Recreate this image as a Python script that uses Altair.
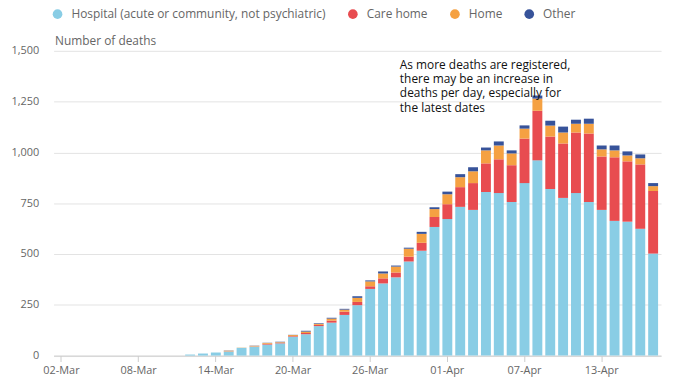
import altair as alt
import pandas as pd

dates = [d.strftime("%d-%b") for d in pd.date_range("2020-03-02", "2020-04-17")]
tick_dates = ["02-Mar", "08-Mar", "14-Mar", "20-Mar", "26-Mar", "01-Apr", "07-Apr", "13-Apr"]

categories = ["Hospital (acute or community, not psychiatric)", "Care home", "Home", "Other"]
colors = ["#89cde5", "#e84c50", "#f5a142", "#37539a"]

zeros = [0] * 10
hospital = zeros + [5, 10, 15, 20, 38, 44, 54, 60, 93, 105,
                    145, 162, 200, 248, 328, 355, 385, 463, 516, 633,
                    672, 732, 717, 805, 800, 756, 849, 961, 820, 776,
                    800, 756, 717, 663, 659, 624, 502]
care_home = zeros + [0, 0, 0, 1, 0, 1, 4, 3, 3, 6,
                     6, 10, 16, 16, 13, 25, 24, 24, 39, 49,
                     73, 97, 132, 141, 166, 181, 219, 244, 258, 268,
                     298, 337, 263, 313, 297, 317, 308]
home = zeros + [0, 0, 0, 3, 1, 3, 4, 3, 5, 7,
                5, 10, 10, 20, 24, 24, 29, 39, 44, 39,
                49, 49, 58, 64, 68, 58, 49, 60, 54, 54,
                43, 48, 35, 34, 29, 30, 24]
other = zeros + [0, 0, 0, 1, 0, 1, 1, 2, 1, 4,
                 3, 4, 4, 8, 5, 10, 5, 5, 10, 9,
                 13, 15, 20, 14, 20, 15, 16, 15, 24, 29,
                 20, 25, 19, 24, 20, 19, 15]

series = [hospital, care_home, home, other]
rows = []
for i, d in enumerate(dates):
    for k, (cat, vals) in enumerate(zip(categories, series)):
        rows.append({"date": d, "place": cat, "deaths": vals[i], "order": k})
df = pd.DataFrame(rows)

note_lines = ["As more deaths are registered,", "there may be an increase in",
              "deaths per day, especially for", "the latest dates"]
note_df = pd.DataFrame({"date": ["28-Mar"], "y": [1456], "text": [note_lines]})

FONT = "Open Sans"

x_enc = alt.X("date:N", sort=dates,
              scale=alt.Scale(paddingInner=0.23, paddingOuter=0.23),
              axis=alt.Axis(values=tick_dates, title=None, labelAngle=0,
                            labelFontSize=11, labelColor="#666", labelFont=FONT,
                            domainColor="#ccc", tickColor="#ccc", tickSize=6,
                            labelPadding=3, grid=False))

bars = alt.Chart(df).mark_bar().encode(
    x=x_enc,
    y=alt.Y("deaths:Q", stack="zero",
            scale=alt.Scale(domain=[0, 1500], nice=False),
            axis=alt.Axis(values=[0, 250, 500, 750, 1000, 1250, 1500], format=",.0f",
                          title="Number of deaths", titleAngle=0, titleAlign="left",
                          titleBaseline="alphabetic", titleX=1, titleY=-6,
                          titleFontSize=12, titleFontWeight="normal", titleColor="#666",
                          titleFont=FONT,
                          labelFontSize=11, labelColor="#666", labelFont=FONT,
                          labelPadding=15, domain=False, ticks=False,
                          gridColor="#e3e3e3")),
    color=alt.Color("place:N",
                    scale=alt.Scale(domain=categories, range=colors),
                    legend=alt.Legend(title=None, orient="none", legendX=-2, legendY=-43,
                                      direction="horizontal", symbolType="circle",
                                      symbolSize=95, symbolStrokeWidth=0,
                                      labelFontSize=12, labelColor="#666", labelFont=FONT,
                                      labelLimit=400, labelOffset=8, columnPadding=21)),
    order=alt.Order("order:Q", sort="ascending"),
)

note = alt.Chart(note_df).mark_text(align="left", baseline="top", dx=4,
                                    fontSize=12, font=FONT, color="#111",
                                    lineHeight=14.5).encode(
    x=alt.X("date:N", sort=dates),
    y=alt.Y("y:Q"),
    text="text",
)

chart = alt.layer(bars, note).properties(
    width=613, height=307.5,
    autosize=alt.AutoSizeParams(type="none"),
    padding={"left": 46, "top": 41.5, "right": 5, "bottom": 30},
).configure_view(stroke=None)

chart.save("out.html", embed_options={"renderer": "svg", "actions": False})
